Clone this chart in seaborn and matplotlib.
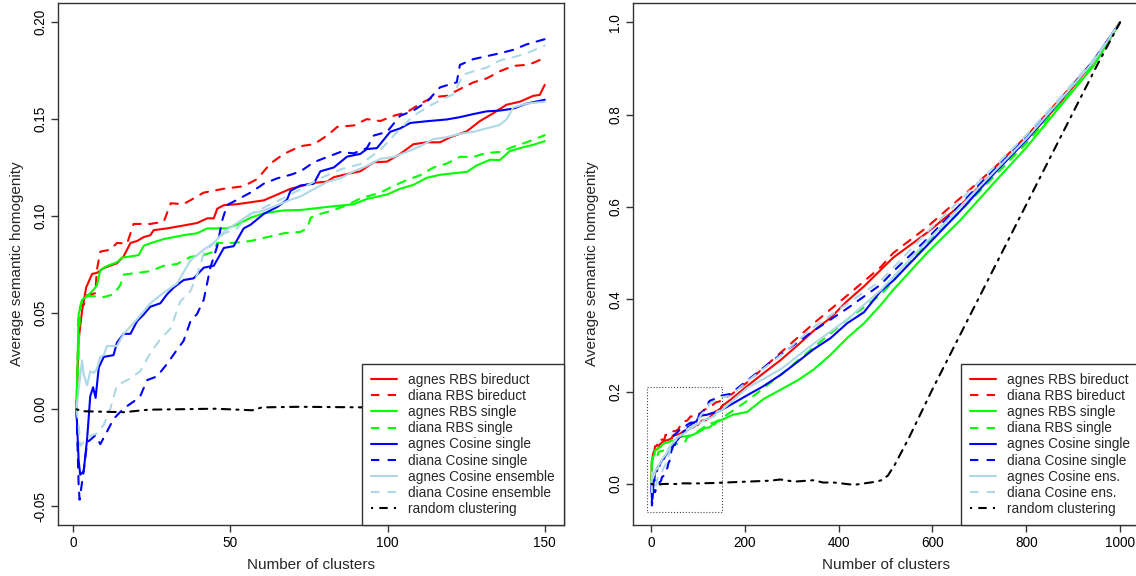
import matplotlib
matplotlib.use("Agg")
import matplotlib.pyplot as plt
from matplotlib.lines import Line2D
from matplotlib.patches import Rectangle
import pandas as pd
import seaborn as sns

# ---------------------------------------------------------------------------
# Average semantic homogeneity vs. number of clusters, (clusters, value) pairs
# ---------------------------------------------------------------------------
AGNES_RBS_BIREDUCT = [
    (1, 0), (1.7, 0.036), (2.8, 0.051), (4.1, 0.063), (6, 0.070), (7.5, 0.0705),
    (9.7, 0.073), (13.9, 0.0755), (16, 0.079), (18.2, 0.086), (20.3, 0.087),
    (22.4, 0.089), (24.5, 0.090), (25.6, 0.0926), (29.8, 0.0935), (35.1, 0.095),
    (39.4, 0.0963), (42.6, 0.0987), (44.7, 0.0987), (45.8, 0.1037), (47.9, 0.1055),
    (52, 0.106), (56.4, 0.107), (60.6, 0.108), (64.9, 0.111), (69.1, 0.114),
    (72.3, 0.1153), (76.5, 0.117), (80.8, 0.1177), (82.9, 0.120), (87.1, 0.1216),
    (91.3, 0.123), (95.6, 0.1277), (99.8, 0.128), (104, 0.132), (108.2, 0.137),
    (112.5, 0.138), (116.7, 0.138), (119.9, 0.1406), (125.2, 0.1437), (129.4, 0.149),
    (133.6, 0.153), (137.8, 0.1574), (142.1, 0.159), (146.3, 0.162), (148.4, 0.1625),
    (150, 0.1677), (169, 0.182), (205, 0.212), (240, 0.240), (276, 0.268),
    (312, 0.300), (347, 0.332), (383, 0.360), (418, 0.396), (454, 0.428),
    (490, 0.464), (516, 0.49), (588, 0.544), (659, 0.603), (730, 0.675),
    (802, 0.747), (873, 0.827), (944, 0.915), (1000, 1.0),
]

DIANA_RBS_BIREDUCT = [
    (1, 0), (1.7, 0.047), (2.2, 0.053), (3.3, 0.054), (4.4, 0.059), (7, 0.060),
    (7.5, 0.072), (8.6, 0.0815), (11.8, 0.0825), (13.9, 0.086), (17.1, 0.0856),
    (19.2, 0.0958), (24.5, 0.0958), (28.8, 0.097), (31, 0.1065), (35, 0.106),
    (38.3, 0.109), (41.5, 0.112), (47.9, 0.114), (54.2, 0.1153), (58.5, 0.119),
    (62.7, 0.127), (67, 0.132), (72.3, 0.136), (76.5, 0.137), (80.8, 0.1415),
    (84, 0.146), (89.2, 0.1467), (93.4, 0.150), (97.7, 0.149), (101.9, 0.1517),
    (106.1, 0.1535), (110.4, 0.158), (114.6, 0.1614), (118.8, 0.162), (123, 0.1655),
    (127.3, 0.169), (131.5, 0.171), (135.7, 0.1747), (140, 0.1775), (144.2, 0.178),
    (146.3, 0.179), (150, 0.1817), (169, 0.192), (205, 0.220), (276, 0.284),
    (347, 0.348), (418, 0.408), (490, 0.47), (516, 0.50), (588, 0.556),
    (659, 0.619), (730, 0.683), (802, 0.755), (873, 0.835), (944, 0.918), (1000, 1.0),
]

AGNES_RBS_SINGLE = [
    (1, 0), (1.7, 0.049), (2.8, 0.0566), (4.4, 0.0585), (6, 0.061), (7.5, 0.064),
    (8.6, 0.072), (10.7, 0.074), (13.9, 0.076), (15.5, 0.0784), (18.2, 0.079),
    (20.8, 0.0797), (22.4, 0.0845), (24.5, 0.0858), (28.8, 0.088), (35.1, 0.090),
    (39.4, 0.091), (42.6, 0.0935), (48.9, 0.0935), (52.1, 0.0954), (56.4, 0.099),
    (60.6, 0.1013), (67, 0.1028), (72.3, 0.103), (80.8, 0.1046), (89.2, 0.106),
    (93.4, 0.1087), (99.8, 0.111), (104, 0.114), (108.2, 0.116), (112.5, 0.1197),
    (116.7, 0.1212), (120.9, 0.122), (125.2, 0.1227), (128.3, 0.126), (132.6, 0.129),
    (135.7, 0.1288), (138.9, 0.1335), (143.1, 0.1354), (146.3, 0.1367), (150, 0.1386),
    (175, 0.150), (205, 0.156), (240, 0.184), (276, 0.204), (312, 0.224),
    (347, 0.248), (383, 0.280), (418, 0.316), (454, 0.348), (490, 0.388),
    (516, 0.42), (588, 0.50), (659, 0.571), (730, 0.651), (802, 0.731),
    (873, 0.819), (944, 0.906), (1000, 1.0),
]

DIANA_RBS_SINGLE = [
    (1, 0), (2.2, 0.053), (3.3, 0.0585), (6.5, 0.0585), (9.7, 0.058), (12.8, 0.0594),
    (14.9, 0.064), (16, 0.0696), (20.3, 0.0705), (24.5, 0.0714), (28.8, 0.0742),
    (33, 0.0751), (37.3, 0.0788), (41.5, 0.0797), (44.7, 0.0815), (45.8, 0.086),
    (51, 0.086), (56.4, 0.087), (61.7, 0.089), (67, 0.091), (72.3, 0.0917),
    (74.4, 0.0935), (75.5, 0.099), (78.6, 0.101), (82.9, 0.103), (87.1, 0.1055),
    (91.3, 0.109), (97.7, 0.112), (101.9, 0.1155), (106.1, 0.1185), (110.4, 0.121),
    (114.6, 0.125), (118.8, 0.127), (123, 0.1305), (127.3, 0.1305), (131.5, 0.1325),
    (135.7, 0.133), (140, 0.1357), (144.2, 0.138), (150, 0.1417), (205, 0.180),
    (276, 0.236), (347, 0.296), (418, 0.356), (490, 0.41), (588, 0.52),
    (659, 0.59), (730, 0.665), (802, 0.74), (873, 0.825), (944, 0.91), (1000, 1.0),
]

AGNES_COSINE_SINGLE = [
    (1, 0), (1.7, -0.0264), (2.2, -0.0338), (3.3, -0.032), (4.4, -0.0153),
    (5.4, 0.0068), (6.3, 0.0114), (7.1, 0.0059), (8.1, 0.0216), (9.7, 0.0271),
    (12.8, 0.028), (13.9, 0.0345), (16, 0.039), (18.2, 0.039), (20.3, 0.0456),
    (22.4, 0.049), (24.5, 0.053), (27.7, 0.0548), (29.8, 0.0594), (32, 0.063),
    (35.1, 0.0668), (38.3, 0.0677), (41.5, 0.0732), (44.7, 0.0742), (47.9, 0.0834),
    (51, 0.0843), (54.2, 0.0935), (56.4, 0.0954), (60.6, 0.101), (64.9, 0.1046),
    (68, 0.1083), (69.1, 0.1129), (72.3, 0.1157), (76.5, 0.1166), (78.6, 0.123),
    (82.9, 0.125), (87.1, 0.1306), (91.3, 0.132), (93.4, 0.1345), (96.6, 0.135),
    (100.8, 0.1434), (104, 0.1452), (107.2, 0.148), (112.5, 0.1489), (118.8, 0.1498),
    (123, 0.151), (127.3, 0.1526), (131.5, 0.154), (135.7, 0.1544), (140, 0.1554),
    (144.2, 0.158), (150, 0.160), (205, 0.192), (240, 0.212), (276, 0.236),
    (312, 0.264), (347, 0.292), (383, 0.316), (418, 0.348), (454, 0.372),
    (490, 0.418), (516, 0.44), (588, 0.516), (659, 0.591), (730, 0.671),
    (802, 0.747), (873, 0.831), (944, 0.918), (1000, 1.0),
]

DIANA_COSINE_SINGLE = [
    (1, 0), (1.7, -0.039), (2, -0.0467), (3.3, -0.032), (4.4, -0.0172), (7, -0.0135),
    (8.6, -0.018), (10.7, -0.0116), (12.8, -0.005), (16, 0.0004), (19.2, 0.004),
    (21.3, 0.0068), (23.5, 0.0151), (26.6, 0.017), (29.8, 0.0234), (33, 0.0308),
    (35.1, 0.0354), (37.3, 0.0456), (39.4, 0.0493), (41.5, 0.0566), (43.6, 0.0732),
    (45.8, 0.0843), (47.3, 0.0972), (48.9, 0.1055), (52.1, 0.1083), (56.4, 0.112),
    (60.6, 0.1166), (64.9, 0.1194), (69.1, 0.1212), (72.3, 0.123), (76.5, 0.1277),
    (80.8, 0.1304), (85, 0.133), (89.2, 0.1323), (93.4, 0.135), (95.6, 0.1415),
    (99.8, 0.1434), (104, 0.1517), (108.2, 0.1544), (112.5, 0.159), (116.7, 0.1664),
    (119.9, 0.168), (122, 0.169), (123, 0.178), (127.3, 0.181), (131.5, 0.1825),
    (135.7, 0.184), (140, 0.1858), (144.2, 0.1886), (150, 0.1913), (169, 0.195),
    (205, 0.224), (240, 0.252), (276, 0.280), (347, 0.332), (418, 0.380),
    (490, 0.432), (516, 0.46), (588, 0.53), (659, 0.605), (730, 0.68),
    (802, 0.752), (873, 0.833), (944, 0.918), (1000, 1.0),
]

AGNES_COSINE_ENSEMBLE = [
    (1, 0), (1.7, 0.010), (2.8, 0.0253), (3.3, 0.018), (4.4, 0.0124), (5.4, 0.0197),
    (6.5, 0.0188), (7.5, 0.0207), (8.6, 0.0271), (9.7, 0.028), (10.7, 0.0327),
    (13.9, 0.0327), (16, 0.039), (20.3, 0.0465), (24.5, 0.0548), (28.8, 0.0603),
    (33, 0.065), (37.3, 0.077), (41.5, 0.0825), (44.7, 0.086), (47.9, 0.0917),
    (52.1, 0.0963), (56.4, 0.101), (60.6, 0.1028), (64.9, 0.1055), (69.1, 0.1083),
    (72.3, 0.110), (76.5, 0.1138), (80.8, 0.1175), (85, 0.1194), (89.2, 0.123),
    (93.4, 0.1258), (97.7, 0.1295), (101.9, 0.1304), (106.1, 0.133), (110.4, 0.136),
    (114.6, 0.1397), (118.8, 0.1406), (123, 0.1424), (127.3, 0.1434), (131.5, 0.1452),
    (135.7, 0.147), (137.8, 0.1498), (140, 0.156), (144.2, 0.158), (150, 0.159),
    (205, 0.208), (276, 0.248), (347, 0.304), (418, 0.356), (490, 0.42),
    (588, 0.525), (659, 0.60), (730, 0.675), (802, 0.75), (873, 0.832),
    (944, 0.916), (1000, 1.0),
]

DIANA_COSINE_ENSEMBLE = [
    (1, 0), (1.7, -0.008), (2.2, -0.019), (3.3, -0.017), (4.4, -0.0144), (7.5, -0.0125),
    (9.7, -0.008), (11.8, 0.0004), (13.9, 0.0124), (18.2, 0.016), (21.3, 0.0197),
    (24.5, 0.029), (27.7, 0.0363), (31, 0.0419), (34, 0.0557), (37.3, 0.0612),
    (39.4, 0.0696), (41.5, 0.0806), (44.7, 0.086), (47.9, 0.0908), (52.1, 0.0935),
    (56.4, 0.101), (67, 0.1092), (72.3, 0.1138), (78.6, 0.1194), (85, 0.124),
    (91.3, 0.1267), (97.7, 0.134), (104, 0.145), (108.2, 0.1517), (112.5, 0.156),
    (116.7, 0.1597), (120.9, 0.1628), (124.1, 0.173), (127.3, 0.1747), (131.5, 0.1766),
    (135.7, 0.1803), (140, 0.182), (144.2, 0.184), (150, 0.188), (169, 0.19),
    (205, 0.222), (276, 0.278), (347, 0.34), (418, 0.39), (490, 0.44),
    (588, 0.545), (659, 0.615), (730, 0.685), (802, 0.758), (873, 0.838),
    (944, 0.92), (1000, 1.0),
]

RANDOM_CLUSTERING = [
    (1, 0), (3, -0.001), (16, -0.0015), (24, -0.0002), (45, 0.0003), (57, -0.0005),
    (60, 0.001), (72, 0.0013), (93, 0.001), (134, 0.002), (205, 0.005), (254, 0.007),
    (276, 0.0096), (305, 0.005), (347, 0.008), (367, 0.003), (390, 0.003),
    (424, -0.001), (433, -0.002), (474, 0.004), (490, 0.0075), (505, 0.018),
    (520, 0.042), (550, 0.100), (600, 0.205), (650, 0.305), (700, 0.405),
    (750, 0.505), (800, 0.605), (850, 0.705), (900, 0.805), (950, 0.905),
    (1000, 1.0),
]

LABELS_LEFT = [
    "agnes RBS bireduct", "diana RBS bireduct", "agnes RBS single", "diana RBS single",
    "agnes Cosine single", "diana Cosine single", "agnes Cosine ensemble",
    "diana Cosine ensemble", "random clustering",
]
LABELS_RIGHT = [
    "agnes RBS bireduct", "diana RBS bireduct", "agnes RBS single", "diana RBS single",
    "agnes Cosine single", "diana Cosine single", "agnes Cosine ens.",
    "diana Cosine ens.", "random clustering",
]

LEFT_XTICKS = [0, 50, 100, 150]
LEFT_YTICKS = [-0.05, 0.00, 0.05, 0.10, 0.15, 0.20]
RIGHT_XTICKS = [0, 200, 400, 600, 800, 1000]
RIGHT_YTICKS = [0.0, 0.2, 0.4, 0.6, 0.8, 1.0]

# ---------------------------------------------------------------------------
# Styling
# ---------------------------------------------------------------------------
SERIES = [
    AGNES_RBS_BIREDUCT, DIANA_RBS_BIREDUCT, AGNES_RBS_SINGLE, DIANA_RBS_SINGLE,
    AGNES_COSINE_SINGLE, DIANA_COSINE_SINGLE, AGNES_COSINE_ENSEMBLE,
    DIANA_COSINE_ENSEMBLE, RANDOM_CLUSTERING,
]
COLORS = ["#FF0000", "#FF0000", "#00FF00", "#00FF00", "#0000FF", "#0000FF",
          "#ADD8E6", "#ADD8E6", "#000000"]
DASHED = (0, (4, 4))
DOTDASH = (0, (1, 3, 4, 3))
STYLES = ["-", DASHED, "-", DASHED, "-", DASHED, "-", DASHED, DOTDASH]
LW = 1.5
FRAME = "#333333"

sns.set_style("ticks")
plt.rcParams["font.family"] = ["Liberation Sans", "DejaVu Sans"]

W, H = 1136, 576
fig = plt.figure(figsize=(W / 100, H / 100), dpi=100)
ax1 = fig.add_axes([57.7 / W, 51 / H, 505.8 / W, 522 / H])
ax2 = fig.add_axes([632.7 / W, 51 / H, 506.1 / W, 522 / H])


def frame(name, pts, xmax):
    df = pd.DataFrame(pts, columns=["clusters", "homogeneity"])
    df["method"] = name
    return df[df["clusters"] <= xmax]


def draw(ax, xmax):
    for name, pts, col, ls in zip(LABELS_LEFT, SERIES, COLORS, STYLES):
        sns.lineplot(data=frame(name, pts, xmax), x="clusters", y="homogeneity",
                     ax=ax, color=col, linestyle=ls, linewidth=LW,
                     estimator=None, sort=True, legend=False,
                     dash_capstyle="round", solid_capstyle="round")


def style_axes(ax, xlim, ylim, xticks, yticks, ylabels, labels):
    ax.set_xlim(*xlim)
    ax.set_ylim(*ylim)
    ax.set_xticks(xticks)
    ax.set_xticklabels([str(t) for t in xticks])
    ax.set_yticks(yticks)
    ax.set_yticklabels(ylabels, rotation=90, va="center")
    ax.tick_params(axis="both", direction="out", length=4.7, width=1.0,
                   color=FRAME, labelsize=9.8, pad=3, labelcolor="black")
    for s in ax.spines.values():
        s.set_visible(True)
        s.set_color(FRAME)
        s.set_linewidth(1.0)
    ax.set_xlabel("Number of clusters", fontsize=11, va="center")
    ax.set_ylabel("Average semantic homogenity", fontsize=11, va="center")
    ax.xaxis.set_label_coords(0.5, -40 / 522)
    ax.yaxis.set_label_coords(-41 / 506, 0.5)

    handles = [Line2D([0], [0], color=c, linestyle=s, linewidth=LW)
               for c, s in zip(COLORS, STYLES)]
    leg = ax.legend(handles, labels, loc="lower right", bbox_to_anchor=(1, 0),
                    borderaxespad=0, frameon=True, fancybox=False,
                    edgecolor="black", framealpha=1, fontsize=9.8,
                    handlelength=1.9, handletextpad=0.8, labelspacing=0.16,
                    borderpad=0.65)
    leg.get_frame().set_linewidth(1.0)
    leg.get_frame().set_edgecolor(FRAME)


draw(ax1, 150)
draw(ax2, 1000)

style_axes(ax1, (-4.96, 155.96), (-0.0598, 0.2100), LEFT_XTICKS, LEFT_YTICKS,
           ["-0.05", "0.00", "0.05", "0.10", "0.15", "0.20"], LABELS_LEFT)
style_axes(ax2, (-39, 1040), (-0.089, 1.042), RIGHT_XTICKS, RIGHT_YTICKS,
           ["0.0", "0.2", "0.4", "0.6", "0.8", "1.0"], LABELS_RIGHT)

# Dotted box on the overview marking the range shown in the left panel
(x0, x1), (y0, y1) = ax1.get_xlim(), ax1.get_ylim()
ax2.add_patch(Rectangle((x0 - 4, y0), (x1 - 5) - (x0 - 4), y1 - y0, fill=False,
                        linestyle=":", linewidth=0.8, edgecolor="#444444", zorder=1))

fig.savefig("out.png", dpi=100)
